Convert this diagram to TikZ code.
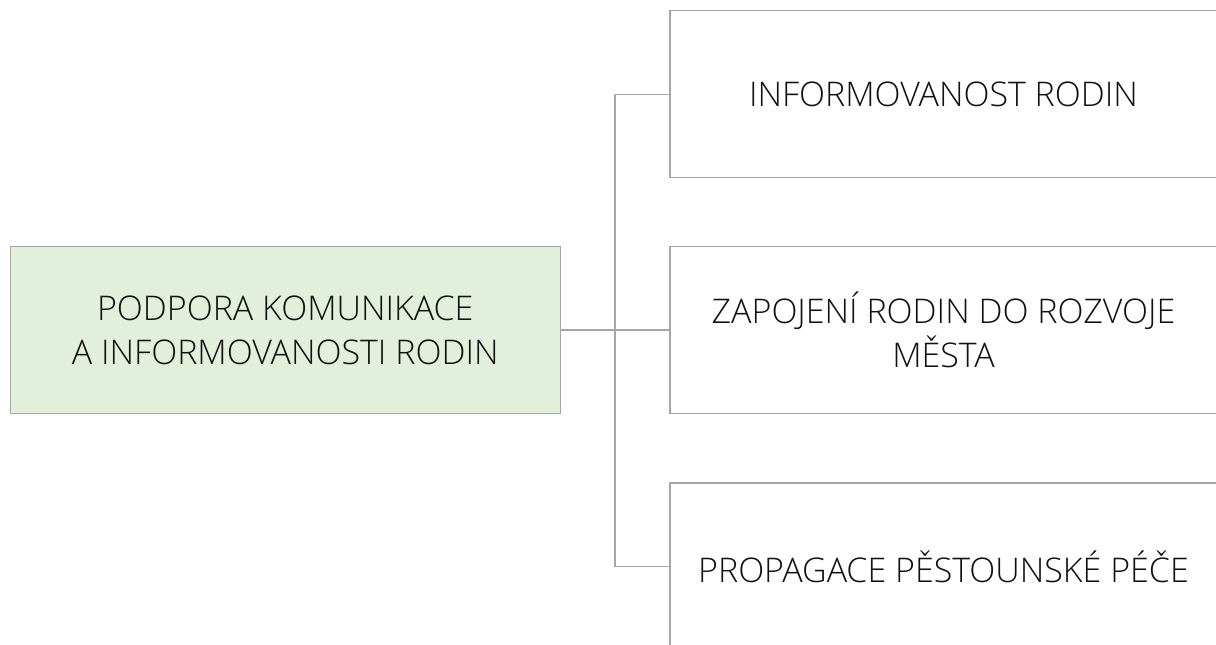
\documentclass[tikz,border=0pt]{standalone}
\usepackage{fontspec}
\setmainfont{Open Sans}[UprightFont=* Light]
\definecolor{boxgreen}{HTML}{E2EFDA}
\definecolor{linegray}{HTML}{A6A6A6}
\definecolor{txt}{HTML}{111111}
\begin{document}
\begin{tikzpicture}[x=0.75pt,y=-0.75pt,
  box/.style={draw=linegray,line width=0.9pt,minimum width=410.25pt,minimum height=125.25pt,
    align=center,inner sep=0pt,text=txt,font=\fontsize{25.5}{32.8}\selectfont},
  link/.style={draw=linegray,line width=0.9pt}]
\useasboundingbox (0,0) rectangle (1216,645);
\node[box,fill=boxgreen,minimum width=412.5pt] (root) at (285.3,330) {PODPORA KOMUNIKACE\\A INFORMOVANOSTI RODIN};
\node[box] (a) at (943.5,94.2) {INFORMOVANOST RODIN};
\node[box] (b) at (943.5,330) {ZAPOJENÍ RODIN DO ROZVOJE\\MĚSTA};
\node[box] (c) at (943.5,566.5) {PROPAGACE PĚSTOUNSKÉ PÉČE};
\coordinate (j) at (615,330);
\draw[link] (root.east) -- (j);
\draw[link] (j) -- (b.west);
\draw[link] (a.west) -| (j);
\draw[link] (c.west) -| (j);
\end{tikzpicture}
\end{document}
